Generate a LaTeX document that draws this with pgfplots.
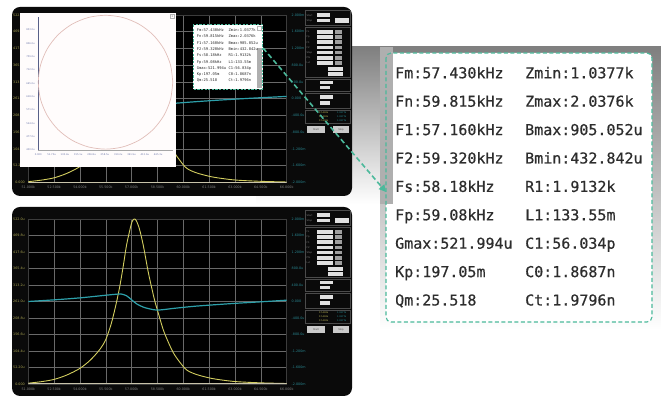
\documentclass[border=0pt]{standalone}
\usepackage{pgfplots}
\pgfplotsset{compat=1.18}
\usepackage{pgfplotstable}
\usepackage{fontspec}
\setmainfont{DejaVu Sans}
\setmonofont{DejaVu Sans Mono}
\newfontfamily\calloutfont[FakeBold=0.5]{DejaVu Sans Mono}
\usetikzlibrary{arrows.meta}
\definecolor{panelc}{RGB}{10,10,10}
\definecolor{gridc}{RGB}{105,105,105}
\definecolor{yel}{RGB}{210,205,95}
\definecolor{yell}{RGB}{165,160,80}
\definecolor{cya}{RGB}{45,160,170}
\definecolor{cyal}{RGB}{40,135,145}
\definecolor{tealc}{RGB}{75,185,155}
\definecolor{shade}{RGB}{200,200,200}
\definecolor{shaded}{RGB}{175,175,175}
\definecolor{txtc}{RGB}{45,45,45}
\definecolor{circc}{RGB}{225,190,185}
\definecolor{winlab}{RGB}{110,120,170}
\definecolor{boxc}{RGB}{225,225,225}
\definecolor{grpc}{RGB}{75,75,75}
\definecolor{beige}{RGB}{200,195,170}

\pgfplotstableread{
x y
0 0.05
0.5 0.14
1.0 0.28
1.5 0.55
2.0 0.95
2.4 1.45
2.77 2.1
3.0 2.7
3.2 3.6
3.3 4.2
3.42 5.0
3.55 6.0
3.68 7.2
3.8 8.4
3.94 9.4
4.02 9.85
4.1 10.0
4.18 9.9
4.3 9.4
4.45 8.4
4.64 6.8
4.78 5.8
4.9 5.0
5.03 4.3
5.22 3.3
5.4 2.6
5.61 1.9
5.85 1.35
6.13 0.85
6.5 0.58
7.03 0.36
7.5 0.24
8.07 0.14
9.0 0.07
10 0.03
}\Gcurve

\pgfplotstableread{
x y
0 5.0
1 5.1
2 5.22
3 5.38
3.4 5.44
3.6 5.45
3.8 5.35
4.0 5.1
4.2 4.85
4.45 4.66
4.7 4.55
4.97 4.48
5.3 4.52
5.61 4.58
6.5 4.72
7.93 4.88
9 4.98
10 5.08
}\Bbot

\pgfplotstableread{
x y
0 5.0
1 5.1
2 5.22
3 5.36
3.5 5.42
4.0 5.15
4.5 4.75
5.0 4.62
5.6 4.72
7 4.88
8.5 5.02
10 5.14
}\Btop

\pgfplotstableread{
g b
522 669
513.1 730.1
487.0 787.0
445.6 835.9
391.5 873.4
328.5 897.0
261 905
193.5 897.0
130.5 873.4
76.4 835.9
35.0 787.0
8.9 730.1
0 669
8.9 607.9
35.0 551.0
76.4 502.1
130.5 464.6
193.5 441.0
261 433
328.5 441.0
391.5 464.6
445.6 502.1
487.0 551.0
513.1 607.9
522 669
}\Circ

\pgfplotsset{
  scr/.style={
    scale only axis, width=258.4pt,
    xmin=0,xmax=10,ymin=0,ymax=10,
    xtick={0,1,...,10}, ytick={0,1,...,10},
    grid=major, major grid style={gridc,line width=0.55pt},
    axis line style={gridc!130,line width=0.6pt},
    major tick length=0pt,
    axis background/.style={fill=black},
    xticklabels={51.000k,52.500k,54.000k,55.500k,57.000k,58.500k,60.000k,61.500k,63.000k,64.500k,66.000k},
    yticklabels={0.000,52.20u,104.4u,156.6u,208.8u,261.0u,313.2u,365.4u,417.6u,469.8u,522.0u},
    x tick label style={font=\fontsize{3.3}{3.5}\selectfont, text=gray},
    y tick label style={font=\fontsize{3.3}{3.5}\selectfont, text=yell},
  },
  scrr/.style={
    scale only axis, width=258.4pt,
    xmin=0,xmax=10,ymin=0,ymax=10,
    hide x axis, axis y line*=right,
    y axis line style={draw=none},
    ytick={0,1,...,10}, major tick length=0pt,
    yticklabels={-2.000m,-1.600m,-1.200m,-800.0u,-400.0u,0.000,400.0u,800.0u,1.200m,1.600m,2.000m},
    y tick label style={font=\fontsize{3.3}{3.5}\selectfont, text=cyal, xshift=1.5pt},
  },
}
\tikzset{px/.style={x=1pt,y=-1pt,shift={(0pt,406pt)}}}

\newcommand{\ctrlpanel}{%
  \draw[grpc,line width=0.4pt] (305,10) rectangle (350,25);
  \draw[grpc,line width=0.4pt] (305,27) rectangle (350,77);
  \draw[grpc,line width=0.4pt] (305,79) rectangle (350,91);
  \draw[grpc,line width=0.4pt] (305,93) rectangle (350,108);
  \draw[grpc,line width=0.4pt] (305,110) rectangle (350,123);
  \fill[boxc] (317,13.5) rectangle (330,17);
  \fill[boxc] (317,19) rectangle (330,22.5);
  \fill[boxc] (335,18) rectangle (349,23);
  \node[font=\fontsize{2.4}{2.4}\selectfont, text=gray, anchor=west, inner sep=0] at (306.5,15.2) {Start};
  \node[font=\fontsize{2.4}{2.4}\selectfont, text=gray, anchor=west, inner sep=0] at (306.5,20.7) {Stop};
  \foreach \t [count=\i from 0] in {Fs,Fp,F1,F2,Step,Pts,Lvl} {
    \fill[boxc] (317,{30+5.2*\i}) rectangle (333,{33.6+5.2*\i});
    \fill[gray!75] (335,{30+5.2*\i}) rectangle (342,{33.6+5.2*\i});
    \node[font=\fontsize{2.4}{2.4}\selectfont, text=gray, anchor=west, inner sep=0] at (306.5,{31.8+5.2*\i}) {\t};
  }
  \fill[boxc] (328,67.5) rectangle (343,70.8);
  \fill[boxc] (328,72.3) rectangle (343,75.6);
  \fill[boxc] (320,81) rectangle (333,84.3);
  \fill[boxc] (320,86) rectangle (330,89.3);
  \fill[boxc] (320,95.5) rectangle (333,98.8);
  \fill[boxc] (320,101.5) rectangle (330,104.8);
  \foreach \i in {0,1,2} {
    \node[font=\fontsize{2.2}{2.2}\selectfont, text=yel, anchor=west, inner sep=0] at (319,{113+3.6*\i}) {57.430k};
    \node[font=\fontsize{2.2}{2.2}\selectfont, text=cya, anchor=west, inner sep=0] at (337,{113+3.6*\i}) {1.0377k};
  }
  \fill[boxc!90!black] (307,126) rectangle (325,133);
  \fill[boxc!90!black] (333,126) rectangle (349,133);
  \node[font=\fontsize{2.4}{2.4}\selectfont, text=black!70] at (316,129.5) {Start};
  \node[font=\fontsize{2.4}{2.4}\selectfont, text=black!70] at (341,129.5) {Stop};
}

\begin{document}
\begin{tikzpicture}
\useasboundingbox (0,0) rectangle (661pt,406pt);
\fill[white] (0,0) rectangle (661pt,406pt);
\begin{scope}[px]
  \fill[shade] (256,47) rectangle (393,204);
  \fill[shade] (380,47) rectangle (661,330);
  \fill[shaded] (380,47) rectangle (393,204);
  \fill[panelc, rounded corners=8pt] (12,7) rectangle (352,196);
  \fill[panelc, rounded corners=8pt] (12,207) rectangle (352,396);
  \ctrlpanel
  \begin{scope}[shift={(0,200)}]
    \ctrlpanel
  \end{scope}
\end{scope}

% ---------- top screen
\begin{axis}[scr, height=167.5pt, at={(28.3pt,223.5pt)}, anchor=south west]
  \addplot[yel, line width=0.9pt, smooth] table {\Gcurve};
  \draw[beige, line width=1pt] (rel axis cs:0,0) -- (rel axis cs:1,0);
\end{axis}
\begin{axis}[scrr, height=167.5pt, at={(28.3pt,223.5pt)}, anchor=south west]
  \addplot[cya, line width=1.2pt, smooth] table {\Btop};
\end{axis}

\begin{scope}[px]
  \fill[white!99!red] (20,13.3) rectangle (175.7,166.7);
  \draw[gray!60, line width=0.3pt] (170.5,14.5) rectangle (174.5,18.5);
  \node[font=\fontsize{3}{3}\selectfont, text=gray, inner sep=0] at (172.5,16.5) {x};
\end{scope}

\begin{axis}[scale only axis, width=135pt, height=133.3pt, at={(38.3pt,256pt)}, anchor=south west,
  xmin=0, xmax=524, ymin=430, ymax=900, clip=false,
  axis x line*=bottom, axis y line*=left,
  x axis line style={gray!70, line width=0.5pt},
  y axis line style={winlab!80!black, line width=0.5pt},
  major tick length=0pt,
  xtick={0,51.7,103.4,155.1,206.8,258.5,310.2,361.9,413.6,465.3},
  xticklabels={0.000,51.70u,103.4u,155.1u,206.8u,258.5u,310.2u,361.9u,413.6u,465.3u},
  ytick={430,477,524,571,618,665,712,759,806,853},
  yticklabels={430.0u,477.0u,524.0u,571.0u,618.0u,665.0u,712.0u,759.0u,806.0u,853.0u},
  tick label style={font=\fontsize{2.4}{2.6}\selectfont, text=winlab},
  ]
  \addplot[circc, line width=0.7pt, smooth] table {\Circ};
\end{axis}

\begin{scope}[px]
  % small results box
  \fill[white] (193.3,25) rectangle (262.7,89.3);
  \fill[shaded] (256.5,48) rectangle (261.5,88);
  \draw[gray!60, line width=0.3pt] (257,26.5) rectangle (261,30.5);
  \draw[tealc, line width=1pt, dash pattern=on 2.2pt off 1.4pt] (193.3,25) rectangle (262.7,89.3);
  \foreach \a/\b [count=\i from 0] in {Fm:57.430kHz/Zmin:1.0377k,Fn:59.815kHz/Zmax:2.0376k,F1:57.160kHz/Bmax:905.052u,F2:59.320kHz/Bmin:432.842u,Fs:58.18kHz/R1:1.9132k,Fp:59.08kHz/L1:133.55m,Gmax:521.994u/C1:56.034p,Kp:197.05m/C0:1.8687n,Qm:25.518/Ct:1.9796n} {
    \node[anchor=base west, inner sep=0, font=\fontsize{3.75}{3.75}\ttfamily, text=txtc] at (196.7,{31.6+6.3*\i}) {\a};
    \node[anchor=base west, inner sep=0, font=\fontsize{3.75}{3.75}\ttfamily, text=txtc] at (228.3,{31.6+6.3*\i}) {\b};
  }
\end{scope}

% ---------- bottom screen
\begin{axis}[scr, height=165pt, at={(28.3pt,22pt)}, anchor=south west]
  \addplot[yel, line width=0.9pt, smooth] table {\Gcurve};
  \draw[beige, line width=1pt] (rel axis cs:0,0) -- (rel axis cs:1,0);
\end{axis}
\begin{axis}[scrr, height=165pt, at={(28.3pt,22pt)}, anchor=south west]
  \addplot[cya, line width=1.2pt, smooth] table {\Bbot};
\end{axis}

\begin{scope}[px]
  % callout
  \fill[white, rounded corners=5pt] (386,53) rectangle (652,322);
  \fill[shaded] (386,53) rectangle (393,204);
  \draw[tealc, line width=1.1pt, dash pattern=on 4pt off 2.5pt, rounded corners=5pt] (386,53) rectangle (652,322);
  \foreach \a/\b [count=\i from 0] in {Fm:57.430kHz/Zmin:1.0377k,Fn:59.815kHz/Zmax:2.0376k,F1:57.160kHz/Bmax:905.052u,F2:59.320kHz/Bmin:432.842u,Fs:58.18kHz/R1:1.9132k,Fp:59.08kHz/L1:133.55m,Gmax:521.994u/C1:56.034p,Kp:197.05m/C0:1.8687n,Qm:25.518/Ct:1.9796n} {
    \node[anchor=base west, inner sep=0, font=\fontsize{15}{15}\calloutfont, text=txtc] at (395,{78.3+28.4*\i}) {\a};
    \node[anchor=base west, inner sep=0, font=\fontsize{15}{15}\calloutfont, text=txtc] at (525,{78.3+28.4*\i}) {\b};
  }
  % arrow
  \draw[tealc, line width=1.6pt, dash pattern=on 5pt off 3pt, -{Triangle[length=7pt,width=7pt]}] (263,48) -- (386,192);
\end{scope}
\end{tikzpicture}
\end{document}
